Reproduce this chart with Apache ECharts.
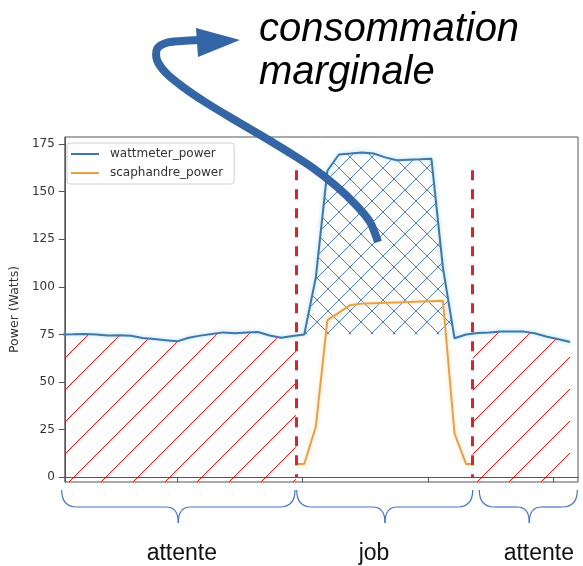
<!DOCTYPE html>
<html><head><meta charset="utf-8">
<script src="https://cdn.jsdelivr.net/npm/echarts@6/dist/echarts.min.js"></script>
<style>html,body{margin:0;padding:0;background:#fff}#c{width:583px;height:566px}</style>
</head><body><div id="c"></div>
<script>
// ---- data ----
const time = [0.79,1.71,2.63,3.55,4.48,5.39,6.32,7.24,8.16,9.08,10.00,10.92,11.84,12.77,13.68,14.61,15.53,16.44,17.37,18.29,19.21,
  20.13,21.05,21.97,22.89,23.82,24.73,25.66,26.58,27.50,28.42,29.34,30.26,31.18,32.10,
  33.02,33.95,34.86,35.79,36.71,37.63,38.55,39.47,40.39,41.31];
const wattmeter = [75.0,75.1,75.3,75.0,74.5,74.6,74.3,73.1,72.6,72.0,71.4,73.3,74.4,75.3,76.1,75.7,76.1,76.3,74.5,73.3,74.2,
  75.0,105,161,169.5,170,170.5,170,168,166.5,166.8,167,167.3,110,73,
  75,75.8,76,76.5,76.5,76.5,75.5,73.8,72.5,71];
const scaphTime = [19.47,20.13,21.05,21.97,22.89,23.82,24.73,25.66,26.58,27.50,28.42,29.34,30.26,31.18,32.10,33.02,33.55];
const scaphandre = [7,7,26.6,82.5,86.5,90.5,91.2,91.4,91.6,91.8,92.0,92.3,92.5,92.7,23,7,7];
const phaseBounds = [19.47, 33.55];          // red dashed lines
const phaseLabels = ['attente', 'job', 'attente'];
const idleFloor = 75;                          // bottom of the cross-hatched zone
const jobRange = [20.13, 32.10];
const yTicks = [0,25,50,75,100,125,150,175];
const xTicks = [10,20,30,40];
const xRange = [1.05, 41.94];
const yRange = [-2.47, 178.7];
const dashTop = 161.3;

// ---- helpers ----
function valueAt(t){
  for (let i=0;i<time.length-1;i++){
    if (t>=time[i] && t<=time[i+1]){
      const f=(t-time[i])/(time[i+1]-time[i]);
      return wattmeter[i]+f*(wattmeter[i+1]-wattmeter[i]);
    }
  }
  return null;
}
const pairs = time.map((t,i)=>[t, wattmeter[i]]);
const redLeft = pairs.filter(p=>p[0]<=phaseBounds[0]).concat([[phaseBounds[0], valueAt(phaseBounds[0])]]);
const redRight = [[phaseBounds[1], valueAt(phaseBounds[1])]].concat(pairs.filter(p=>p[0]>phaseBounds[1]));
const jobPairs = pairs.filter(p=>p[0]>=jobRange[0]-1e-6 && p[0]<=jobRange[1]+1e-6);
const scaphPairs = scaphTime.map((t,i)=>[t, scaphandre[i]]);

// closed regions in data space
const regionLeft = redLeft.concat([[redLeft[redLeft.length-1][0], yRange[0]],[redLeft[0][0], yRange[0]]]);
const regionRight = redRight.concat([[redRight[redRight.length-1][0], yRange[0]],[redRight[0][0], yRange[0]]]);
const regionJob = jobPairs.map(p=>[p[0], Math.max(p[1], idleFloor)]).concat(jobPairs.slice().reverse().map(p=>[p[0], idleFloor]));

function inside(pt, poly){
  let c=false;
  for(let i=0,j=poly.length-1;i<poly.length;j=i++){
    const [xi,yi]=poly[i],[xj,yj]=poly[j];
    if(((yi>pt[1])!==(yj>pt[1])) && (pt[0] < (xj-xi)*(pt[1]-yi)/(yj-yi)+xi)) c=!c;
  }
  return c;
}
function hatchRender(region, specs, period, color){
  return function(params, api){
    const cs = params.coordSys;
    const poly = region.map(p=>api.coord(p));
    let x0=Infinity,x1=-Infinity,y0=Infinity,y1=-Infinity;
    poly.forEach(p=>{x0=Math.min(x0,p[0]);x1=Math.max(x1,p[0]);y0=Math.min(y0,p[1]);y1=Math.max(y1,p[1]);});
    x0=Math.max(x0,cs.x); x1=Math.min(x1,cs.x+cs.width); y0=Math.max(y0,cs.y); y1=Math.min(y1,cs.y+cs.height);
    let d='';
    specs.forEach(([dir,ph])=>{
      const sMin = dir==='/' ? x0+y0 : x0-y1;
      const sMax = dir==='/' ? x1+y1 : x1-y0;
      const kStart = Math.floor((sMin-ph)/period), kEnd = Math.ceil((sMax-ph)/period);
      for(let k=kStart;k<=kEnd;k++){
        const s = ph + k*period;
        let run=null;
        const step=0.25;
        const flush=()=>{ if(run){ d+=`M${run[0].toFixed(2)} ${run[1].toFixed(2)}L${run[2].toFixed(2)} ${run[3].toFixed(2)}`; run=null; } };
        for(let x=x0;x<=x1+1e-9;x+=step){
          const y = dir==='/' ? s-x : x-s;
          const ok = y>=y0 && y<=y1 && inside([x,y],poly);
          if(ok){ if(!run) run=[x,y,x,y]; else {run[2]=x;run[3]=y;} }
          else flush();
        }
        flush();
      }
    });
    return {type:'path', shape:{pathData:d}, style:{fill:'none', stroke:color, lineWidth:1}};
  };
}

const chart = echarts.init(document.getElementById('c'), null, {renderer:'canvas'});

const braceStyle = {fill:null, stroke:'#4472c4', lineWidth:1.2};
function brace(x0,x1,xm){
  const T=490, M=507, B=523;
  return [
    {type:'bezierCurve', z:100, shape:{x1:x0,y1:T,cpx1:x0,cpy1:T+10,cpx2:x0+4,cpy2:M,x2:x0+15,y2:M}, style:braceStyle},
    {type:'line', z:100, shape:{x1:x0+15,y1:M,x2:xm-12,y2:M}, style:braceStyle},
    {type:'bezierCurve', z:100, shape:{x1:xm-12,y1:M,cpx1:xm-4,cpy1:M,cpx2:xm,cpy2:M+5,x2:xm,y2:B}, style:braceStyle},
    {type:'bezierCurve', z:100, shape:{x1:xm,y1:B,cpx1:xm,cpy1:M+5,cpx2:xm+4,cpy2:M,x2:xm+12,y2:M}, style:braceStyle},
    {type:'line', z:100, shape:{x1:xm+12,y1:M,x2:x1-15,y2:M}, style:braceStyle},
    {type:'bezierCurve', z:100, shape:{x1:x1-15,y1:M,cpx1:x1-4,cpy1:M,cpx2:x1,cpy2:T+10,x2:x1,y2:T}, style:braceStyle}
  ];
}
const braceSpecs = [[61.7,295,178.3,181.8],[296.7,472.7,385,374],[479.3,577.3,529.3,538.8]];
let graphics = [];
braceSpecs.forEach((b,i)=>{
  graphics = graphics.concat(brace(b[0],b[1],b[2]));
  graphics.push({type:'text', z:100, x:b[3], y:554, style:{text:phaseLabels[i], font:'23px "Liberation Sans"', fill:'#111', align:'center', verticalAlign:'middle'}});
});
graphics.push({type:'polyline', z:100, shape:{smooth:0.3, points:[[378,242],[370,222],[356,205],[336,186],[313,168],[290,153],[262,136],[233,119],[205,102],[183,87],[166,73],[157,60],[157,49],[166,43],[182,41],[200,40]]},
  style:{fill:null, stroke:'#3465a4', lineWidth:8, lineCap:'butt', lineJoin:'round'}});
graphics.push({type:'polygon', z:100, shape:{points:[[196,28],[240,40],[198,57]]}, style:{fill:'#3465a4'}});
graphics.push({type:'text', z:100, x:259, y:30, style:{text:'consommation', font:'italic 40px "Liberation Sans"', fill:'#000', align:'left', verticalAlign:'middle'}});
graphics.push({type:'text', z:100, x:259, y:73, style:{text:'marginale', font:'italic 40px "Liberation Sans"', fill:'#000', align:'left', verticalAlign:'middle'}});

chart.setOption({
  animation:false,
  backgroundColor:'#fff',
  grid:{left:60, right:5, top:137, bottom:84, show:true, borderColor:'#555', borderWidth:1, backgroundColor:'transparent'},
  xAxis:{type:'value', min:xRange[0], max:xRange[1],
    axisLine:{show:true, lineStyle:{color:'#555', width:1}},
    axisTick:{show:true, customValues:xTicks, length:5, lineStyle:{color:'#555'}},
    axisLabel:{show:false}, splitLine:{show:false}},
  yAxis:{type:'value', min:yRange[0], max:yRange[1],
    name:'Power (Watts)', nameLocation:'middle', nameGap:42,
    nameTextStyle:{fontSize:12.5, color:'#333', fontFamily:'DejaVu Sans'},
    axisLine:{show:true, lineStyle:{color:'#555', width:1}},
    axisTick:{show:true, customValues:yTicks, length:6, lineStyle:{color:'#555'}},
    axisLabel:{customValues:yTicks, fontSize:12, color:'#333', fontFamily:'DejaVu Sans', margin:10},
    splitLine:{show:false}},
  legend:{data:['wattmeter_power','scaphandre_power'], orient:'vertical', left:67, top:143,
    icon:'rect', itemWidth:28, itemHeight:2, itemGap:5, padding:[4,11,4,4],
    borderColor:'#d0d0d0', borderWidth:1, borderRadius:3, backgroundColor:'rgba(255,255,255,0.85)',
    textStyle:{fontSize:12, fontFamily:'DejaVu Sans', color:'#333', padding:[0,0,0,6], lineHeight:14}},
  graphic:graphics,
  series:[
    {name:'idleL', type:'custom', data:[[0,0]], silent:true, z:1, clip:true,
      renderItem:hatchRender(regionLeft, [['/',7]], 32, '#ff0000')},
    {name:'idleR', type:'custom', data:[[0,0]], silent:true, z:1, clip:true,
      renderItem:hatchRender(regionRight, [['/',31]], 32, '#ff0000')},
    {name:'marginal', type:'custom', data:[[0,0]], silent:true, z:1, clip:true,
      renderItem:hatchRender(regionJob, [['/',1],['\\',17]], 22, '#4a7cc2')},
    {name:'wattmeter_power', type:'line', data:pairs, symbol:'none', z:3, color:'#3f78a8',
      lineStyle:{width:2, color:'#3f78a8', shadowBlur:4, shadowColor:'rgba(120,200,245,0.7)'}},
    {name:'scaphandre_power', type:'line', data:scaphPairs, symbol:'none', z:4, color:'#e8a048',
      lineStyle:{width:2, color:'#e8a048', shadowBlur:4, shadowColor:'rgba(250,205,140,0.7)'}},
    {name:'bounds', type:'line', data:[], z:5, silent:true,
      markLine:{symbol:'none', silent:true, label:{show:false},
        lineStyle:{color:'#d62728', width:3, type:[10,9]},
        data:phaseBounds.map(x=>[{coord:[x,dashTop]},{coord:[x,0]}])}}
  ]
});
</script></body></html>
